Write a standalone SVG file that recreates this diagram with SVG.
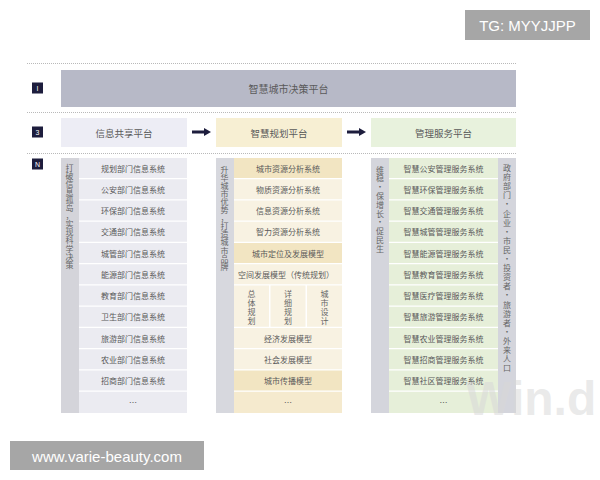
<svg xmlns="http://www.w3.org/2000/svg" width="600" height="480" viewBox="0 0 600 480">
<defs>
<style>
.t{font-family:"Noto Sans CJK SC","Liberation Sans",sans-serif;fill:#5a5a5a;text-anchor:middle;dominant-baseline:central}
.it{font-size:8px}
.v{font-family:"Noto Sans CJK SC",sans-serif;fill:#666;font-size:8px;text-anchor:middle;dominant-baseline:central}
.dot{stroke:#b9b9b9;stroke-width:1;stroke-dasharray:1 1}
.lab{fill:#1d1d3d}
.labt{font-family:"Liberation Sans",sans-serif;font-size:7px;fill:#fff;text-anchor:middle;dominant-baseline:central}
.lg{fill:#ebebf1}
.ls{fill:#d4d4da}
.my{fill:#f8f2e2}
.md{fill:#f2e5c2}
.ms{fill:#d7d8de}
.rg{fill:#e6efd9}
.rs{fill:#d4d5dc}
.arr{fill:#1d1d3d}
.wm{fill:#a6a6a6}
.wmt{font-family:"Liberation Sans",sans-serif;fill:#fff;dominant-baseline:central;text-anchor:middle}
</style>
</defs>
<rect width="600" height="480" fill="#fff"/>

<g id="separators">
<line class="dot" x1="27" y1="63.5" x2="517" y2="63.5"/>
<line class="dot" x1="27" y1="112.5" x2="517" y2="112.5"/>
<line class="dot" x1="27" y1="153.5" x2="517" y2="153.5"/>
</g>

<g id="level-labels">
<rect class="lab" x="32" y="82.5" width="11" height="11"/><text class="labt" x="37.5" y="88">I</text>
<rect class="lab" x="32" y="126.5" width="11" height="11"/><text class="labt" x="37.5" y="132">3</text>
<rect class="lab" x="32" y="158.5" width="11" height="11"/><text class="labt" x="37.5" y="164">N</text>
</g>

<g id="decision-platform">
<rect x="61" y="70" width="455" height="37" fill="#b7b9c7"/>
<text class="t" x="288.5" y="88.5" font-size="10">智慧城市决策平台</text>
</g>

<g id="info-share-platform">
<rect x="61" y="118" width="126" height="29" fill="#ededf5"/>
<text class="t" x="124" y="132.5" font-size="9.5">信息共享平台</text>
</g>
<g id="planning-platform">
<rect x="216" y="118" width="126" height="29" fill="#f7efd3"/>
<text class="t" x="279" y="132.5" font-size="9.5">智慧规划平台</text>
</g>
<g id="service-platform">
<rect x="371" y="118" width="145" height="29" fill="#e8f2dd"/>
<text class="t" x="443.5" y="132.5" font-size="9.5">管理服务平台</text>
</g>

<g id="connectors">
<path class="arr" d="M192,130.5 h12 v-2.5 l7,4 l-7,4 v-2.5 h-12 z"/>
<path class="arr" d="M347,130.5 h12 v-2.5 l7,4 l-7,4 v-2.5 h-12 z"/>
</g>

<g id="info-systems">
<rect class="ls" x="61" y="158" width="18" height="255"/>
<text class="v" x="69.5 69.5 69.5 69.5 69.5 69.5 69.5 69.5 69.5 69.5 69.5 69.5 69.5" y="167 175.1 183.2 191.3 199.4 207.5 215.6 223.7 231.8 239.9 248 256.1 264.2">打破信息孤岛，实现科学决策</text>
<rect class="lg" x="79" y="158" width="108" height="20"/><text class="t it" x="133" y="168">规划部门信息系统</text>
<rect class="lg" x="79" y="179.25" width="108" height="20"/><text class="t it" x="133" y="189.25">公安部门信息系统</text>
<rect class="lg" x="79" y="200.5" width="108" height="20"/><text class="t it" x="133" y="210.5">环保部门信息系统</text>
<rect class="lg" x="79" y="221.75" width="108" height="20"/><text class="t it" x="133" y="231.75">交通部门信息系统</text>
<rect class="lg" x="79" y="243" width="108" height="20"/><text class="t it" x="133" y="253">城管部门信息系统</text>
<rect class="lg" x="79" y="264.25" width="108" height="20"/><text class="t it" x="133" y="274.25">能源部门信息系统</text>
<rect class="lg" x="79" y="285.5" width="108" height="20"/><text class="t it" x="133" y="295.5">教育部门信息系统</text>
<rect class="lg" x="79" y="306.75" width="108" height="20"/><text class="t it" x="133" y="316.75">卫生部门信息系统</text>
<rect class="lg" x="79" y="328" width="108" height="20"/><text class="t it" x="133" y="338">旅游部门信息系统</text>
<rect class="lg" x="79" y="349.25" width="108" height="20"/><text class="t it" x="133" y="359.25">农业部门信息系统</text>
<rect class="lg" x="79" y="370.5" width="108" height="20"/><text class="t it" x="133" y="380.5">招商部门信息系统</text>
<rect class="lg" x="79" y="391.75" width="108" height="21.25"/><text class="t it" x="133" y="402">…</text>
</g>

<g id="planning-systems">
<rect class="ms" x="216" y="158" width="18" height="255"/>
<text class="v" x="224.5 224.5 224.5 224.5 224.5 224.5 224.5 224.5 224.5 224.5 224.5 224.5 224.5" y="169 177.1 185.2 193.3 201.4 209.5 217.6 225.7 233.8 241.9 250 258.1 266.2">升华城市优势，打造城市品牌</text>
<rect class="md" x="234" y="158" width="108" height="20"/><text class="t it" x="288" y="168">城市资源分析系统</text>
<rect class="my" x="234" y="179.25" width="108" height="20"/><text class="t it" x="288" y="189.25">物质资源分析系统</text>
<rect class="my" x="234" y="200.5" width="108" height="20"/><text class="t it" x="288" y="210.5">信息资源分析系统</text>
<rect class="my" x="234" y="221.75" width="108" height="20"/><text class="t it" x="288" y="231.75">智力资源分析系统</text>
<rect class="md" x="234" y="243" width="108" height="20"/><text class="t it" x="288" y="253">城市定位及发展模型</text>
<rect class="my" x="234" y="264.25" width="108" height="20"/><text class="t it" x="286" y="274.25">空间发展模型（传统规划）</text>
<rect class="my" x="234" y="285.5" width="35" height="41.25"/>
<rect class="my" x="270.5" y="285.5" width="35" height="41.25"/>
<rect class="my" x="307" y="285.5" width="35" height="41.25"/>
<text class="v" x="251.5 251.5 251.5 251.5" y="293 302 311 320">总体规划</text>
<text class="v" x="288 288 288 288" y="293 302 311 320">详细规划</text>
<text class="v" x="324.5 324.5 324.5 324.5" y="293 302 311 320">城市设计</text>
<rect class="my" x="234" y="328" width="108" height="20"/><text class="t it" x="288" y="338">经济发展模型</text>
<rect class="my" x="234" y="349.25" width="108" height="20"/><text class="t it" x="288" y="359.25">社会发展模型</text>
<rect class="md" x="234" y="370.5" width="108" height="20"/><text class="t it" x="288" y="380.5">城市传播模型</text>
<rect class="md" x="234" y="391.75" width="108" height="21.25" fill-opacity="0.8"/><text class="t it" x="288" y="402">…</text>
</g>

<g id="service-systems">
<rect class="rs" x="371" y="158" width="18" height="255"/>
<text class="v" x="380 380 380 380 380 380 380 380 380 380" y="169 177.8 186.6 195.4 204.2 213 221.8 230.6 239.4 248.2">维稳•保增长•促民生</text>
<rect class="rs" x="498" y="158" width="18" height="255"/>
<text class="v" x="507 507 507 507 507 507 507 507 507 507 507 507 507 507 507 507 507 507 507 507 507 507 507" y="167.5 176.6 185.7 194.8 203.9 213 222.1 231.2 240.3 249.4 258.5 267.6 276.7 285.8 294.9 304 313.1 322.2 331.3 340.4 349.5 358.6 367.7">政府部门•企业•市民•投资者•旅游者•外来人口</text>
<rect class="rg" x="389" y="158" width="109" height="20"/><text class="t it" x="443.5" y="168">智慧公安管理服务系统</text>
<rect class="rg" x="389" y="179.25" width="109" height="20"/><text class="t it" x="443.5" y="189.25">智慧环保管理服务系统</text>
<rect class="rg" x="389" y="200.5" width="109" height="20"/><text class="t it" x="443.5" y="210.5">智慧交通管理服务系统</text>
<rect class="rg" x="389" y="221.75" width="109" height="20"/><text class="t it" x="443.5" y="231.75">智慧城管管理服务系统</text>
<rect class="rg" x="389" y="243" width="109" height="20"/><text class="t it" x="443.5" y="253">智慧能源管理服务系统</text>
<rect class="rg" x="389" y="264.25" width="109" height="20"/><text class="t it" x="443.5" y="274.25">智慧教育管理服务系统</text>
<rect class="rg" x="389" y="285.5" width="109" height="20"/><text class="t it" x="443.5" y="295.5">智慧医疗管理服务系统</text>
<rect class="rg" x="389" y="306.75" width="109" height="20"/><text class="t it" x="443.5" y="316.75">智慧旅游管理服务系统</text>
<rect class="rg" x="389" y="328" width="109" height="20"/><text class="t it" x="443.5" y="338">智慧农业管理服务系统</text>
<rect class="rg" x="389" y="349.25" width="109" height="20"/><text class="t it" x="443.5" y="359.25">智慧招商管理服务系统</text>
<rect class="rg" x="389" y="370.5" width="109" height="20"/><text class="t it" x="443.5" y="380.5">智慧社区管理服务系统</text>
<rect class="rg" x="389" y="391.75" width="109" height="21.25"/><text class="t it" x="443.5" y="402">…</text>
</g>

<g id="watermarks">
<text x="466" y="415" font-family="Liberation Sans, sans-serif" font-weight="bold" font-size="48" fill="#d8d8d8" fill-opacity="0.55">Win.d</text>
<rect class="wm" x="465" y="10" width="125" height="30"/>
<text class="wmt" x="527.5" y="25.5" font-size="15">TG: MYYJJPP</text>
<rect class="wm" x="10" y="441" width="194" height="29"/>
<text class="wmt" x="107" y="456" font-size="15">www.varie-beauty.com</text>
</g>
</svg>
